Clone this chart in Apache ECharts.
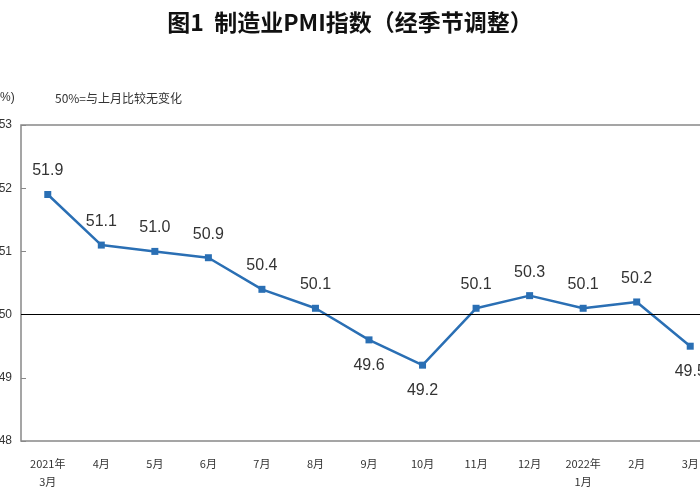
<!DOCTYPE html><html><head><meta charset="utf-8"><script src="https://cdn.jsdelivr.net/npm/echarts@6/dist/echarts.min.js"></script></head><body style="margin:0"><div id="c" style="width:700px;height:500px"></div><script>
const categories=['2021年\n3月','4月','5月','6月','7月','8月','9月','10月','11月','12月','2022年\n1月','2月','3月'];
const values=[51.9,51.1,51.0,50.9,50.4,50.1,49.6,49.2,50.1,50.3,50.1,50.2,49.5];
const below=[6,7,12];
const yTicks=[48,49,50,51,52,53];
const chart=echarts.init(document.getElementById('c'));
chart.setOption({
 animation:false,
 title:{text:'图1  制造业PMI指数（经季节调整）',left:'center',top:6,textStyle:{fontSize:23,fontWeight:'bold',color:'#111',fontFamily:'Noto Sans CJK SC'}},
 graphic:[{type:'text',left:55,top:92,style:{text:'50%=与上月比较无变化',fontSize:12,fill:'#333',fontFamily:'Noto Sans CJK SC'}},
          {type:'text',left:0,top:92,style:{text:'%)',fontSize:12,fill:'#333'}}],
 grid:{left:21,top:125,width:696,bottom:59,show:true,borderColor:'#888',borderWidth:1.5,outerBoundsMode:'none',containLabel:false},
 xAxis:{type:'category',data:categories,boundaryGap:true,axisLine:{show:false},axisTick:{show:false},
  axisLabel:{fontSize:11,color:'#333',fontFamily:'Noto Sans CJK SC',lineHeight:18,margin:14,interval:0}},
 yAxis:{type:'value',min:yTicks[0],max:yTicks[yTicks.length-1],interval:1,axisLine:{show:false},
  axisTick:{show:true,inside:true,length:5,lineStyle:{color:'#888'}},splitLine:{show:false},axisLabel:{fontSize:12,color:'#333',margin:9}},
 series:[{type:'line',data:values.map((v,i)=>({value:v,label:{position:below.includes(i)?'bottom':'top',distance:below.includes(i)?14:12}})),
  symbol:'rect',symbolSize:7,lineStyle:{color:'#2a6fb4',width:2.5},itemStyle:{color:'#2a6fb4'},
  label:{show:true,fontSize:16,color:'#333',formatter:p=>p.value.toFixed(1)},
  markLine:{silent:true,symbol:'none',label:{show:false},lineStyle:{color:'#000',type:'solid',width:1.2},data:[{yAxis:50}]}}]
});
</script></body></html>
